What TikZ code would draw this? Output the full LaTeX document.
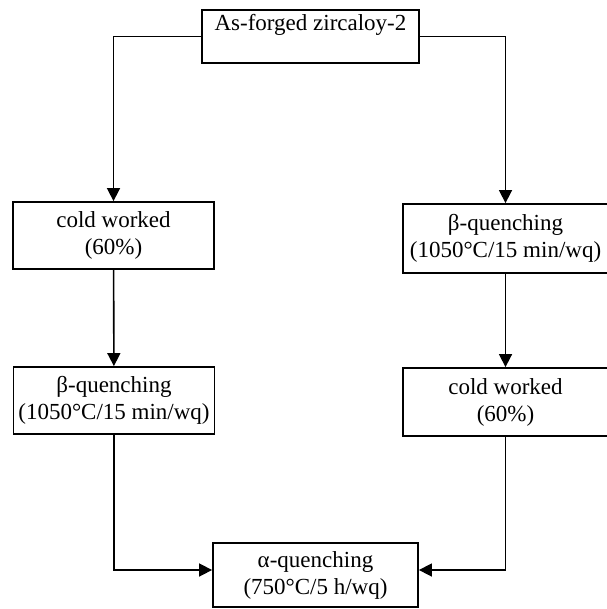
\documentclass[tikz,border=0pt]{standalone}
\usepackage{fontspec}
\setmainfont{Liberation Serif}
\usepackage{tikz}
\usetikzlibrary{arrows.meta}

\begin{document}
\begin{tikzpicture}[x=0.5pt, y=-0.5pt,
    font=\fontsize{11.5}{13.5}\selectfont,
    block/.style={
        rectangle,
        draw=black,
        line width=0.9pt,
        minimum width=100.5pt,
        minimum height=33.5pt,
        inner sep=0pt
    },
    twoline/.style={block, align=center},
    arrow/.style={-{Triangle[length=6.5pt,width=6.5pt]}, line width=0.8pt}]

    \useasboundingbox (0,0) rectangle (606,609);

    % Starting material
    \node[block, minimum width=108.5pt, minimum height=26.5pt,
          text height=10.5pt, text depth=16pt] (forged) at (310.5,36.5) {As-forged zircaloy-2};

    % Left route
    \node[twoline] (coldL) at (113.5,235.5) {cold worked\\(60\%)};
    \node[twoline] (betaL) at (114,400.5) {β-quenching\\(1050°C/15 min/wq)};

    % Right route
    \node[twoline, minimum width=102.5pt, minimum height=34.5pt] (betaR) at (505.5,238.5) {β-quenching\\(1050°C/15 min/wq)};
    \node[twoline, minimum width=102.5pt, minimum height=34pt] (coldR) at (505.5,402) {cold worked\\(60\%)};

    % Final treatment
    \node[twoline, minimum width=102.5pt, minimum height=32pt] (alpha) at (315.5,575) {α-quenching\\(750°C/5 h/wq)};

    % Connect with arrows
    \draw[arrow] (forged.west) -| (coldL.north);
    \draw[arrow] (forged.east) -| (betaR.north);
    \draw[arrow] (coldL) -- (betaL);
    \draw[arrow] (betaR) -- (coldR);
    \draw[arrow] (betaL.south) |- ([yshift=2.5pt]alpha.west);
    \draw[arrow] (coldR.south) |- ([yshift=2.5pt]alpha.east);
\end{tikzpicture}
\end{document}
